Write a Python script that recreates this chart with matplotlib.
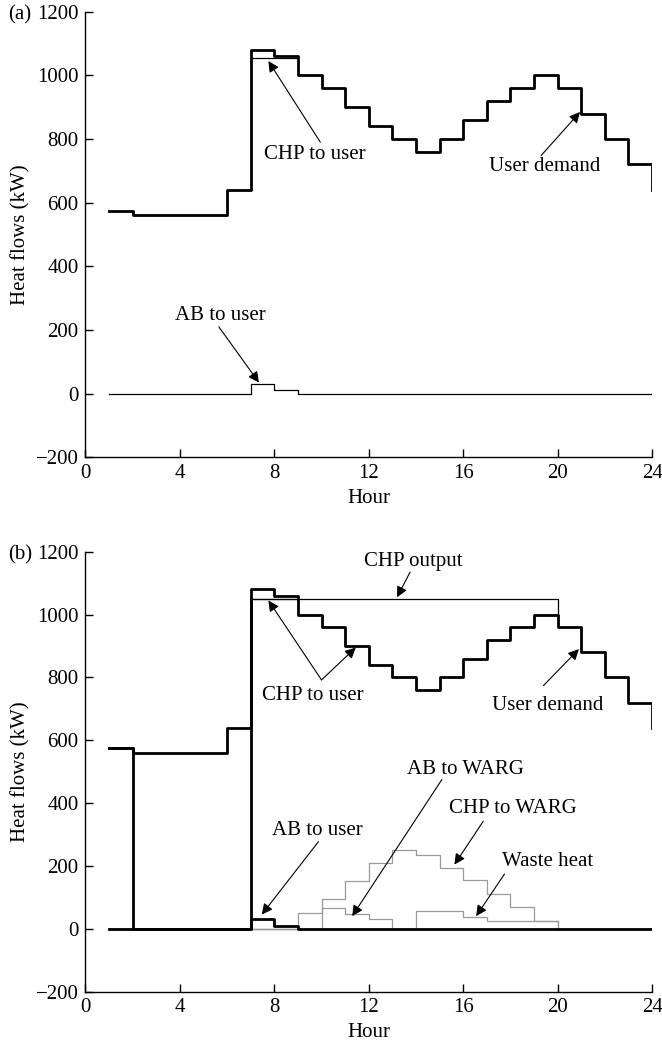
import matplotlib
matplotlib.use("Agg")
import matplotlib.pyplot as plt

plt.rcParams['font.family'] = ['Liberation Serif', 'DejaVu Serif']
plt.rcParams['font.size'] = 15

hours = list(range(1, 25))

# user heat demand (kW), same in both panels
demand = [575, 560, 560, 560, 560, 640, 1080, 1060, 1000, 960, 900, 840,
          800, 760, 800, 860, 920, 960, 1000, 960, 880, 800, 720, 640]

# panel (a)
chp_user_a = [575, 560, 560, 560, 560, 640, 1055, 1055, 1000, 960, 900, 840,
              800, 760, 800, 860, 920, 960, 1000, 960, 880, 800, 720, 640]
ab_user_a = [0, 0, 0, 0, 0, 0, 30, 10, 0, 0, 0, 0,
             0, 0, 0, 0, 0, 0, 0, 0, 0, 0, 0, 0]

# panel (b)
chp_user_b = [0, 0, 0, 0, 0, 0, 1050, 1050, 1000, 960, 900, 840,
              800, 760, 800, 860, 920, 960, 1000, 1000]
chp_out_hours = [7, 8, 9, 10, 11, 12, 13, 14, 15, 16, 17, 18, 19, 20]
chp_out = [1050, 1050, 1050, 1050, 1050, 1050, 1050, 1050, 1050, 1050, 1050,
           1050, 1050, 1000]
ab_user_b = [575, 0, 0, 0, 0, 0, 30, 10, 0, 0, 0, 0,
             0, 0, 0, 0, 0, 0, 0, 0, 0, 0, 0, 0]
ab_warg = [0, 0, 0, 0, 0, 0, 0, 0, 0, 66, 48, 30,
           0, 0, 0, 0, 0, 0, 0, 0, 0, 0, 0, 0]
chp_warg = [0, 0, 0, 0, 0, 0, 0, 0, 50, 93, 153, 210,
            250, 235, 193, 154, 112, 68, 24, 0, 0, 0, 0, 0]
waste = [0, 0, 0, 0, 0, 0, 0, 0, 0, 0, 0, 0,
         0, 55, 55, 37, 24, 24, 24, 0, 0, 0, 0, 0]

THICK = 2.0
THIN = 0.9
GRAY = '#9a9a9a'

fig = plt.figure(figsize=(6.62, 10.46), dpi=100)
ax_a = fig.add_axes([0.129, 0.5628, 0.856, 0.426])
ax_b = fig.add_axes([0.129, 0.0521, 0.856, 0.4204])


def style_axes(ax):
    ax.set_xlim(0, 24)
    ax.set_ylim(-200, 1200)
    ax.set_xticks([0, 4, 8, 12, 16, 20, 24])
    ax.set_yticks([-200, 0, 200, 400, 600, 800, 1000, 1200])
    ax.set_yticklabels(['\u2212200', '0', '200', '400', '600', '800', '1000', '1200'])
    ax.spines['top'].set_visible(False)
    ax.spines['right'].set_visible(False)
    ax.spines['left'].set_linewidth(1.0)
    ax.spines['bottom'].set_linewidth(1.0)
    ax.tick_params(direction='in', length=6, width=1.0, pad=5)
    ax.set_xlabel('Hour', labelpad=4)
    ax.set_ylabel('Heat flows (kW)', labelpad=4)


def arrow(ax, tip, start):
    ax.annotate('', xy=tip, xytext=start,
                arrowprops=dict(arrowstyle='-|>', color='k', lw=0.8,
                                mutation_scale=16, shrinkA=0, shrinkB=0))


# ---- panel (a)
ax = ax_a
ax.step(hours, ab_user_a, where='post', color='k', lw=THIN)
ax.step(hours, chp_user_a, where='post', color='k', lw=THIN)
ax.step(hours, demand, where='post', color='k', lw=THICK)
style_axes(ax)

ax.text(9.7, 752, 'CHP to user', ha='center', va='center')
arrow(ax, (7.75, 1045), (9.95, 790))
ax.text(19.45, 713, 'User demand', ha='center', va='center')
arrow(ax, (20.95, 885), (19.3, 748))
ax.text(5.7, 247, 'AB to user', ha='center', va='center')
arrow(ax, (7.35, 35), (5.65, 210))
fig.text(0.012, 1 - 15 / 1046, '(a)', ha='left', va='center')

# ---- panel (b)
ax = ax_b
ax.step(hours, ab_warg, where='post', color=GRAY, lw=THIN)
ax.step(hours, chp_warg, where='post', color=GRAY, lw=THIN)
ax.step(hours, waste, where='post', color=GRAY, lw=THIN)
ax.step(chp_out_hours, chp_out, where='post', color='k', lw=THIN)
ax.step(hours[:len(chp_user_b)], chp_user_b, where='post', color='k', lw=THIN)
ax.step(hours[:7], chp_user_b[:7], where='post', color='k', lw=THICK)
ax.step(hours, ab_user_b, where='post', color='k', lw=THICK)
ax.step(hours, demand, where='post', color='k', lw=THICK)
style_axes(ax)

ax.text(13.9, 1168, 'CHP output', ha='center', va='center')
arrow(ax, (13.2, 1055), (13.75, 1135))
ax.text(9.65, 743, 'CHP to user', ha='center', va='center')
arrow(ax, (7.75, 1045), (10.0, 792))
arrow(ax, (11.45, 895), (10.0, 792))
ax.text(19.57, 711, 'User demand', ha='center', va='center')
arrow(ax, (20.9, 890), (19.4, 774))
ax.text(16.1, 508, 'AB to WARG', ha='center', va='center')
arrow(ax, (11.3, 40), (15.1, 475))
ax.text(18.1, 382, 'CHP to WARG', ha='center', va='center')
arrow(ax, (15.63, 204), (16.85, 342))
ax.text(9.84, 311, 'AB to user', ha='center', va='center')
arrow(ax, (7.47, 45), (9.87, 277))
ax.text(19.56, 214, 'Waste heat', ha='center', va='center')
arrow(ax, (16.55, 40), (17.75, 174))
fig.text(0.012, 1 - 555 / 1046, '(b)', ha='left', va='center')

fig.savefig('out.png', dpi=100)
